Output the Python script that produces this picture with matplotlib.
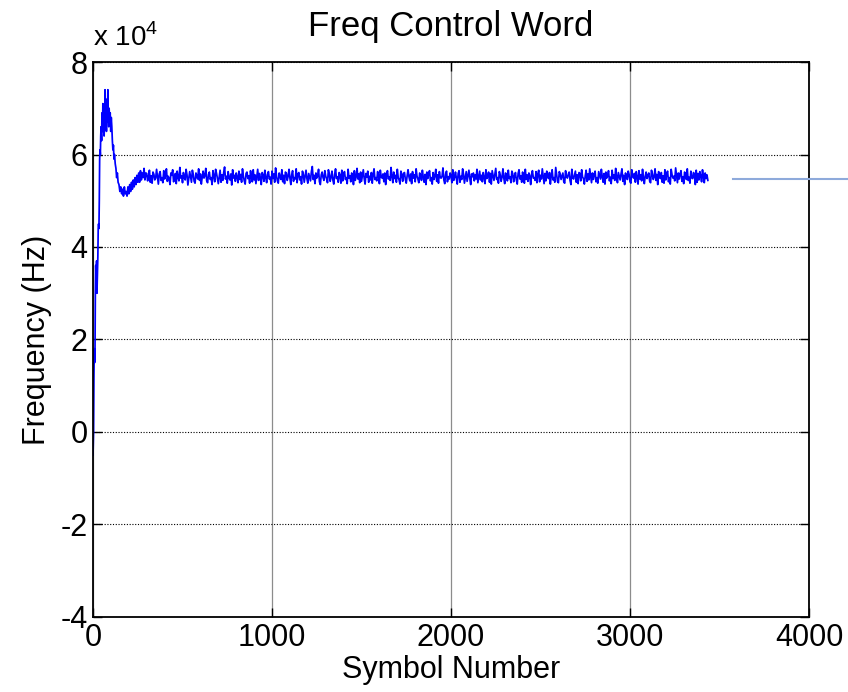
import numpy as np
import matplotlib
matplotlib.use("Agg")
from matplotlib import pyplot as plt
from matplotlib.lines import Line2D
from matplotlib.ticker import FuncFormatter

plt.rcParams['font.family'] = ['Liberation Sans', 'DejaVu Sans']
plt.rcParams['mathtext.fontset'] = 'custom'
plt.rcParams['mathtext.rm'] = 'Liberation Sans'

# --- data (frequency in kHz) ---
# start-up transient: symbol index -> value
transient_sym = [0, 3, 5, 7, 9, 11, 13, 15, 17, 20, 22, 25, 27, 29, 31, 33, 35, 37, 39, 41,
                 43, 45, 48, 50, 53, 55, 57, 60, 62, 65, 67, 70, 72, 75, 78, 80, 83, 85, 88, 90,
                 93, 96, 99, 102, 105, 108, 111, 114, 117, 120, 124, 128, 132, 136, 140, 145, 150, 155, 160, 165,
                 170, 175, 180, 185, 190, 195, 200, 205, 210, 215, 220, 225, 230, 235, 240, 245, 250, 255, 260, 265,
                 270, 275, 280, 285, 290, 295]
transient_khz = [-5, 0, 12, 18, 15, 17, 30, 36, 33, 37, 30, 35, 38, 44, 45, 44, 50, 59, 61, 60,
                 64, 66, 63, 69, 65, 71, 66, 70, 64, 68, 74, 66, 70, 65, 72, 67, 74, 68, 66, 70,
                 67, 69, 65, 68, 66, 63, 61, 62, 59, 60, 58, 57, 55, 56, 54, 53.5, 52, 53, 51.5, 52.5,
                 51, 53, 51.5, 52, 51, 53, 51.5, 53.5, 52, 54, 52.5, 54.5, 53, 55, 53.5, 55.5, 54, 56, 54, 56.5,
                 54.5, 56, 55, 57, 54.5, 56]

# locked part, one reading every 5 symbols starting at symbol 300
steady_start = 300
steady_step = 5
steady_khz = [
    55.9, 54.3, 55.1, 56.6, 54.0, 55.4, 53.8, 56.2, 55.7, 54.5, 54.9, 56.8, 55.2, 53.6, 55.8, 56.3, 54.4, 55.0, 53.9, 56.5,
    54.7, 55.6, 56.9, 54.2, 55.3, 54.8, 53.5, 56.0, 55.5, 56.7, 54.1, 54.6, 55.9, 53.7, 56.4, 55.1, 54.3, 57.2, 54.9, 55.4,
    53.9, 56.1, 55.0, 54.5, 56.8, 55.6, 53.4, 54.8, 56.3, 55.2, 54.0, 56.6, 55.7, 54.2, 53.8, 56.0, 55.3, 54.7, 56.9, 54.4,
    55.8, 53.6, 55.1, 56.4, 54.9, 55.5, 57.0, 54.3, 53.9, 55.7, 56.2, 54.6, 55.0, 53.5, 56.5, 55.4, 54.1, 56.8, 55.9, 54.8,
    53.7, 55.2, 56.6, 54.0, 55.6, 54.4, 56.1, 57.3, 54.7, 55.3, 53.8, 56.3, 55.0, 54.5, 55.8, 53.4, 56.7, 54.9, 55.5, 54.2,
    56.0, 55.1, 53.9, 56.4, 54.6, 55.7, 54.0, 56.9, 55.3, 54.3, 53.6, 55.9, 56.2, 54.8, 55.4, 53.8, 56.5, 55.0, 54.1, 56.7,
    54.5, 55.6, 53.7, 55.2, 56.8, 54.4, 55.9, 54.9, 53.5, 56.1, 55.5, 54.2, 56.6, 55.0, 53.9, 55.7, 56.3, 54.7, 55.1, 53.6,
    56.4, 54.8, 55.8, 54.0, 57.1, 55.4, 54.3, 53.8, 56.0, 55.2, 54.6, 56.7, 54.1, 55.5, 53.7, 56.2, 55.9, 54.4, 55.3, 56.8,
    54.9, 53.5, 55.6, 56.5, 54.2, 55.0, 54.7, 56.9, 53.9, 55.8, 56.1, 54.5, 55.2, 53.6, 56.4, 55.7, 54.0, 55.3, 56.6, 54.8,
    53.8, 55.9, 55.1, 54.3, 56.3, 57.4, 54.6, 55.5, 53.7, 56.0, 54.9, 55.4, 56.8, 54.1, 53.5, 55.6, 56.2, 55.0, 54.4, 56.5,
    55.3, 54.7, 53.9, 56.7, 55.8, 54.2, 55.1, 56.4, 54.5, 53.6, 55.7, 56.9, 54.8, 55.2, 54.0, 56.1, 55.5, 53.8, 56.6, 54.3,
    55.9, 56.3, 54.6, 55.0, 53.7, 56.8, 54.9, 55.4, 54.1, 56.0, 55.6, 53.5, 56.5, 54.4, 55.2, 57.0, 54.7, 55.8, 53.9, 56.2,
    54.2, 55.5, 56.7, 54.8, 53.6, 55.9, 55.1, 56.4, 54.0, 55.3, 54.5, 56.1, 53.8, 55.7, 56.9, 54.6, 55.0, 54.3, 56.3, 55.4,
    53.7, 56.6, 55.2, 54.9, 55.8, 54.1, 56.0, 53.5, 55.6, 56.5, 54.7, 55.1, 54.4, 57.2, 55.3, 53.9, 56.2, 54.8, 55.5, 54.0,
    56.8, 55.0, 54.5, 53.6, 56.4, 55.7, 54.2, 55.9, 56.1, 54.6, 53.8, 55.4, 56.7, 55.2, 54.3, 55.8, 53.7, 56.3, 54.9, 55.6,
    54.1, 56.9, 55.3, 54.7, 53.9, 56.0, 55.5, 54.4, 56.6, 55.1, 54.0, 55.7, 53.5, 56.2, 54.8, 55.9, 56.5, 54.3, 55.0, 53.6,
    56.1, 54.6, 55.4, 56.8, 54.2, 55.6, 53.8, 56.3, 55.0, 54.9, 55.3, 57.1, 54.5, 53.7, 55.8, 56.4, 54.1, 55.2, 54.7, 56.0,
    55.5, 53.9, 56.7, 54.4, 55.1, 56.2, 54.8, 53.6, 55.9, 56.5, 54.0, 55.3, 54.6, 56.9, 55.7, 53.8, 55.0, 56.3, 54.2, 55.4,
    56.6, 54.9, 53.5, 55.8, 55.2, 56.0, 54.3, 55.6, 54.7, 56.8, 53.9, 55.1, 56.4, 54.5, 55.5, 54.1, 56.1, 55.0, 53.7, 56.7,
    54.8, 55.3, 56.2, 54.0, 55.9, 53.6, 56.5, 55.4, 54.4, 55.7, 57.0, 54.6, 55.0, 53.8, 56.3, 55.6, 54.2, 55.1, 56.9, 54.9,
    53.7, 56.0, 55.5, 54.3, 56.6, 54.8, 55.2, 53.9, 56.4, 55.8, 54.1, 55.3, 56.1, 54.5, 53.6, 55.9, 56.7, 54.7, 55.4, 54.0,
    56.2, 55.1, 53.8, 56.8, 54.6, 55.6, 54.2, 56.0, 55.3, 53.5, 55.7, 56.5, 54.9, 55.0, 54.4, 56.3, 53.9, 55.8, 56.6, 54.1,
    55.5, 54.7, 56.9, 55.2, 53.7, 55.9, 54.3, 56.4, 55.1, 54.8, 56.1, 53.6, 55.4, 56.7, 54.5, 55.0, 54.0, 57.2, 55.6, 54.2,
    53.9, 56.3, 55.8, 54.6, 55.3, 56.0, 54.1, 53.8, 56.5, 55.2, 54.9, 55.7, 56.2, 54.4, 53.5, 56.8, 55.0, 54.7, 55.5, 56.4,
    54.0, 55.6, 53.7, 56.1, 55.9, 54.3, 56.7, 55.1, 54.8, 53.6, 55.4, 56.6, 54.2, 55.8, 54.5, 56.9, 55.3, 53.9, 56.0, 54.6,
    55.7, 56.4, 54.1, 55.0, 53.8, 56.3, 55.5, 54.7, 56.8, 55.2, 54.0, 55.9, 53.6, 56.2, 54.9, 55.4, 56.5, 54.3, 55.1, 53.7,
    56.6, 54.8, 55.6, 54.4, 57.0, 55.0, 53.9, 56.1, 55.3, 54.5, 55.8, 56.9, 54.2, 55.5, 53.5, 56.0, 55.2, 54.6, 56.4, 55.7,
    54.1, 53.8, 56.7, 55.4, 54.9, 55.9, 54.0, 56.3, 55.1, 53.6, 56.5, 54.7, 55.6, 54.3, 56.8, 55.0, 53.7, 55.3, 56.2, 54.8,
    55.5, 56.0, 54.2, 53.9, 56.6, 55.8, 54.6, 55.2, 56.9, 54.4, 55.7, 53.5, 56.3, 55.1, 54.8, 56.1, 54.0, 55.4, 53.8, 56.7,
    54.5, 55.9, 56.4, 54.1, 55.0, 53.6, 56.8, 55.6, 54.9, 55.3, 54.3, 57.1, 55.5, 53.9, 56.0, 54.7, 55.8, 56.5, 54.2, 55.2,
    53.7, 56.2, 55.7, 54.6, 56.9, 54.4, 55.1, 53.8, 56.4, 55.0, 54.8, 56.1, 55.4, 53.5, 56.6, 54.0, 55.9, 54.5, 56.3, 55.3,
    54.1, 56.7, 55.2, 53.9, 56.0, 54.8, 55.6, 54.4,
]

x_ticks = [0, 1000, 2000, 3000, 4000]
y_ticks = [-4e4, -2e4, 0, 2e4, 4e4, 6e4, 8e4]

steady_sym = steady_start + steady_step * np.arange(len(steady_khz))
sym = np.concatenate([transient_sym, steady_sym])
freq = np.concatenate([transient_khz, steady_khz]) * 1000.0

fig = plt.figure(figsize=(8.48, 6.92), dpi=100)
ax = fig.add_axes([0.1097, 0.1084, 0.8443, 0.802])

ax.plot(sym, freq, color='#0000ff', linewidth=1.25)

ax.set_xlim(0, 4000)
ax.set_ylim(-4e4, 8e4)
ax.set_xticks(x_ticks)
ax.set_yticks(y_ticks)
ax.yaxis.set_major_formatter(FuncFormatter(lambda v, p: '%g' % (v / 1e4)))

# matlab-ish grid: dotted horizontals, grey verticals
ax.grid(axis='y', color='black', linestyle=(0, (1, 1.5)), linewidth=0.8)
ax.grid(axis='x', color='#8c8c8c', linestyle='-', linewidth=0.9)

ax.tick_params(direction='in', length=6.5, width=1.0, top=True, right=True,
               labelsize=22, pad=4, colors='black')
for s in ax.spines.values():
    s.set_linewidth(1.3)

ax.set_title('Freq Control Word', fontsize=25, pad=19)
ax.set_xlabel('Symbol Number', fontsize=22, labelpad=2)
ax.set_ylabel('Frequency (Hz)', fontsize=22, labelpad=6)

# exponent label at top-left
fig.text(0.110, 0.925, r'x 10$^{4}$', fontsize=20, ha='left', va='bottom')

# stray light-blue line on the right edge
fig.add_artist(Line2D([733 / 848, 1.0], [1 - 179 / 692, 1 - 179 / 692],
                      color='#8eaadb', linewidth=1.5))

fig.savefig('out.png', dpi=100)
